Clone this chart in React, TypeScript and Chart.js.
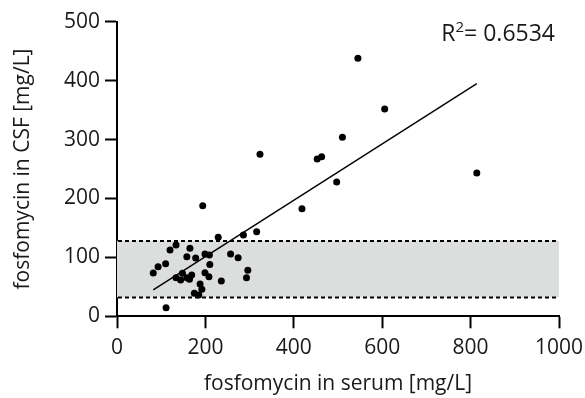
import React, { useEffect, useRef } from "react";
import { Chart, registerables } from "chart.js";

Chart.register(...registerables);

// Data
const serumX = [
  82, 93, 110, 120, 133.5, 133.5, 144, 148, 165, 158, 158, 164, 169, 178, 175, 185,
  188, 192, 199, 209, 199, 210, 208, 229, 236, 257, 274, 286, 296, 293, 316, 111,
  194, 323.5, 418.5, 497, 545, 605.6, 510, 453, 463, 814,
];
const csfY = [
  73.5, 84, 89, 112.6, 121, 65.5, 61.6, 73, 115.4, 101, 65.5, 62.8, 70, 99, 39, 36,
  55, 46, 105.8, 104, 74, 88, 67, 134, 60, 105.8, 99.5, 138, 78, 65.5, 143.6, 14.6,
  187.8, 275, 182.7, 228, 438, 352, 304, 267, 271, 243,
];
const fitX = [82, 814];
const fitY = [45, 395];
const bandLow = 32;
const bandHigh = 128;
const xTickValues = [0, 200, 400, 600, 800, 1000];
const yTickValues = [0, 100, 200, 300, 400, 500];
const rSquaredLabel = "0.6534";
const xTitle = "fosfomycin in serum [mg/L]";
const yTitle = "fosfomycin in CSF [mg/L]";

const FONT = '"Open Sans", "Noto Sans", sans-serif';
const TEXT = "#1a1a1a";

const bandPlugin = {
  id: "band",
  beforeDatasetsDraw(chart: any) {
    const { ctx, chartArea, scales } = chart;
    const yTop = scales.y.getPixelForValue(bandHigh);
    const yBot = scales.y.getPixelForValue(bandLow);
    ctx.save();
    ctx.fillStyle = "#dcdedd";
    ctx.fillRect(chartArea.left, yTop, chartArea.right - chartArea.left, yBot - yTop);
    ctx.strokeStyle = "#000";
    ctx.lineWidth = 2;
    ctx.setLineDash([4, 3]);
    ctx.beginPath();
    ctx.moveTo(chartArea.left + 1, yTop);
    ctx.lineTo(chartArea.right, yTop);
    ctx.moveTo(chartArea.left + 1, yBot);
    ctx.lineTo(chartArea.right, yBot);
    ctx.stroke();
    ctx.restore();
  },
};

const r2Plugin = {
  id: "r2",
  afterDraw(chart: any) {
    const { ctx, chartArea } = chart;
    ctx.save();
    ctx.fillStyle = TEXT;
    ctx.textBaseline = "alphabetic";
    ctx.textAlign = "left";
    const big = `23px ${FONT}`;
    const small = `15px ${FONT}`;
    const rest = "= " + rSquaredLabel;
    ctx.font = big;
    const wR = ctx.measureText("R").width;
    const wRest = ctx.measureText(rest).width;
    ctx.font = small;
    const w2 = ctx.measureText("2").width;
    const right = chartArea.right - 4;
    const base = 41;
    let x = right - (wR + w2 + wRest);
    ctx.font = big;
    ctx.fillText("R", x, base);
    x += wR;
    ctx.font = small;
    ctx.fillText("2", x, base - 9);
    x += w2;
    ctx.font = big;
    ctx.fillText(rest, x, base);
    ctx.restore();
  },
};

export default function App() {
  const ref = useRef<HTMLCanvasElement | null>(null);
  useEffect(() => {
    if (!ref.current) return;
    const points = serumX.map((x, i) => ({ x, y: csfY[i] }));
    const fit = fitX.map((x, i) => ({ x, y: fitY[i] }));
    const chart = new Chart(ref.current, {
      type: "scatter",
      data: {
        datasets: [
          {
            data: points,
            backgroundColor: "#000",
            borderWidth: 0,
            pointRadius: 3.5,
            pointHoverRadius: 3.5,
          },
          {
            type: "line",
            data: fit,
            borderColor: "#000",
            borderWidth: 1.4,
            pointRadius: 0,
            showLine: true,
            fill: false,
          } as any,
        ],
      },
      options: {
        responsive: false,
        animation: false,
        events: [],
        layout: { padding: { left: 0, top: 21.7, right: 26, bottom: 0 } },
        plugins: { legend: { display: false }, tooltip: { enabled: false } },
        scales: {
          x: {
            type: "linear",
            min: 0,
            max: 1000,
            afterBuildTicks: (s: any) => {
              s.ticks = xTickValues.map((v) => ({ value: v }));
            },
            afterFit: (s: any) => {
              s.height = 81.7;
              s.paddingLeft = 0;
              s.paddingRight = 0;
            },
            ticks: {
              color: TEXT,
              font: { family: FONT, size: 21 },
              padding: 7,
              maxRotation: 0,
              callback: (v: any) => String(v),
            },
            grid: {
              drawOnChartArea: false,
              drawTicks: true,
              tickLength: 12,
              tickWidth: 2,
              tickColor: "#000",
            },
            border: { display: true, color: "#000", width: 2 },
            title: {
              display: true,
              text: xTitle,
              color: TEXT,
              font: { family: FONT, size: 21 },
              padding: { top: 0, bottom: 1 },
            },
          },
          y: {
            type: "linear",
            min: 0,
            max: 500,
            afterBuildTicks: (s: any) => {
              s.ticks = yTickValues.map((v) => ({ value: v }));
            },
            afterFit: (s: any) => {
              s.width = 117;
              s.paddingTop = 0;
              s.paddingBottom = 0;
            },
            ticks: {
              color: TEXT,
              font: { family: FONT, size: 21 },
              padding: 5,
              callback: (v: any) => String(v),
            },
            grid: {
              drawOnChartArea: false,
              drawTicks: true,
              tickLength: 12,
              tickWidth: 2,
              tickColor: "#000",
            },
            border: { display: true, color: "#000", width: 2 },
            title: {
              display: true,
              text: yTitle,
              color: TEXT,
              font: { family: FONT, size: 21 },
              padding: { top: 10, bottom: 0 },
            },
          },
        },
      },
      plugins: [bandPlugin, r2Plugin],
    });
    return () => chart.destroy();
  }, []);
  return (
    <div style={{ position: "fixed", left: 0, top: 0, width: 585, height: 398, background: "#fff" }}>
      <canvas ref={ref} width={585} height={398} style={{ display: "block" }} />
    </div>
  );
}
